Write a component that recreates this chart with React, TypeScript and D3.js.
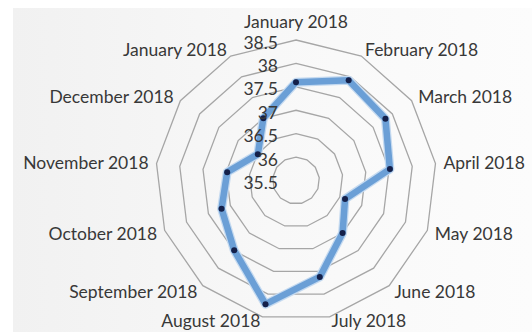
import React from "react";
import * as d3 from "d3";

const categories = [
  "January 2018", "February 2018", "March 2018", "April 2018", "May 2018",
  "June 2018", "July 2018", "August 2018", "September 2018", "October 2018",
  "November 2018", "December 2018", "January 2018",
];
const values = [37.6, 37.92, 37.82, 37.52, 36.62, 37.0, 37.62, 38.22, 37.49, 37.2, 36.98, 36.49, 37.0];
const ticks = [35.5, 36, 36.5, 37, 37.5, 38, 38.5];

const W = 532, H = 332;
const cx = 296, cy = 180.5, R = 140.5;
const FONT = "Lato, 'Open Sans', sans-serif";

export default function App() {
  const n = categories.length;
  const r = d3.scaleLinear().domain([35.5, 38.5]).range([0, R]);
  const ang = d3.scaleLinear().domain([0, n]).range([0, 2 * Math.PI]);
  const pt = (i: number, v: number): [number, number] => {
    const a = ang(i);
    const rr = r(v);
    return [cx + rr * Math.sin(a), cy - rr * Math.cos(a)];
  };
  const ringPath = (v: number) => {
    const pts = d3.range(n).map((i) => pt(i, v));
    return d3.line().curve(d3.curveLinearClosed)(pts) || "";
  };
  const dataPts = values.map((v, i) => pt(i, v));
  const dataPath = d3.line().curve(d3.curveLinearClosed)(dataPts) || "";

  return (
    <svg width={W} height={H} style={{ position: "absolute", left: 0, top: 0 }}>
      <defs>
        <linearGradient id="bg" x1="0" y1="0" x2="1" y2="0">
          <stop offset="0" stopColor="#f1f1f1" />
          <stop offset="0.5" stopColor="#f8f8f8" />
          <stop offset="1" stopColor="#fcfcfc" />
        </linearGradient>
      </defs>
      <rect x={0} y={0} width={W} height={H} fill="#ffffff" />
      <rect x={13} y={8} width={W - 13} height={H - 8} fill="url(#bg)" />
      {ticks.slice(1).map((t) => (
        <path key={t} d={ringPath(t)} fill="none" stroke="#a6a6a6" strokeWidth={1.3} />
      ))}
      <path d={dataPath} fill="none" stroke="#c5daf0" strokeWidth={9} strokeLinejoin="round" />
      <path d={dataPath} fill="none" stroke="#6b9fd6" strokeWidth={6.5} strokeLinejoin="round" />
      {dataPts.map((p, i) => (
        <circle key={"m" + i} cx={p[0]} cy={p[1]} r={3} fill="#14204a" />
      ))}
      {ticks.map((t) => (
        <text
          key={"t" + t}
          x={cx - 18}
          y={cy - r(t) + 2}
          textAnchor="end"
          dominantBaseline="central"
          fontFamily={FONT}
          fontSize={17.5}
          fill="#383838"
        >
          {t}
        </text>
      ))}
      {categories.map((c, i) => {
        const a = ang(i);
        const s = Math.sin(a), co = Math.cos(a);
        const d = 8;
        const x = cx + (R + d) * s;
        let y = cy - (R + d) * co;
        const anchor: "start" | "end" | "middle" = s > 0.01 ? "start" : s < -0.01 ? "end" : "middle";
        if (anchor === "middle") y -= co * 11;
        if (y > 320) y = 320.5;
        return (
          <text
            key={"c" + i}
            x={x}
            y={y}
            textAnchor={anchor}
            dominantBaseline="central"
            fontFamily={FONT}
            fontSize={17.5}
            fill="#383838"
          >
            {c}
          </text>
        );
      })}
    </svg>
  );
}
